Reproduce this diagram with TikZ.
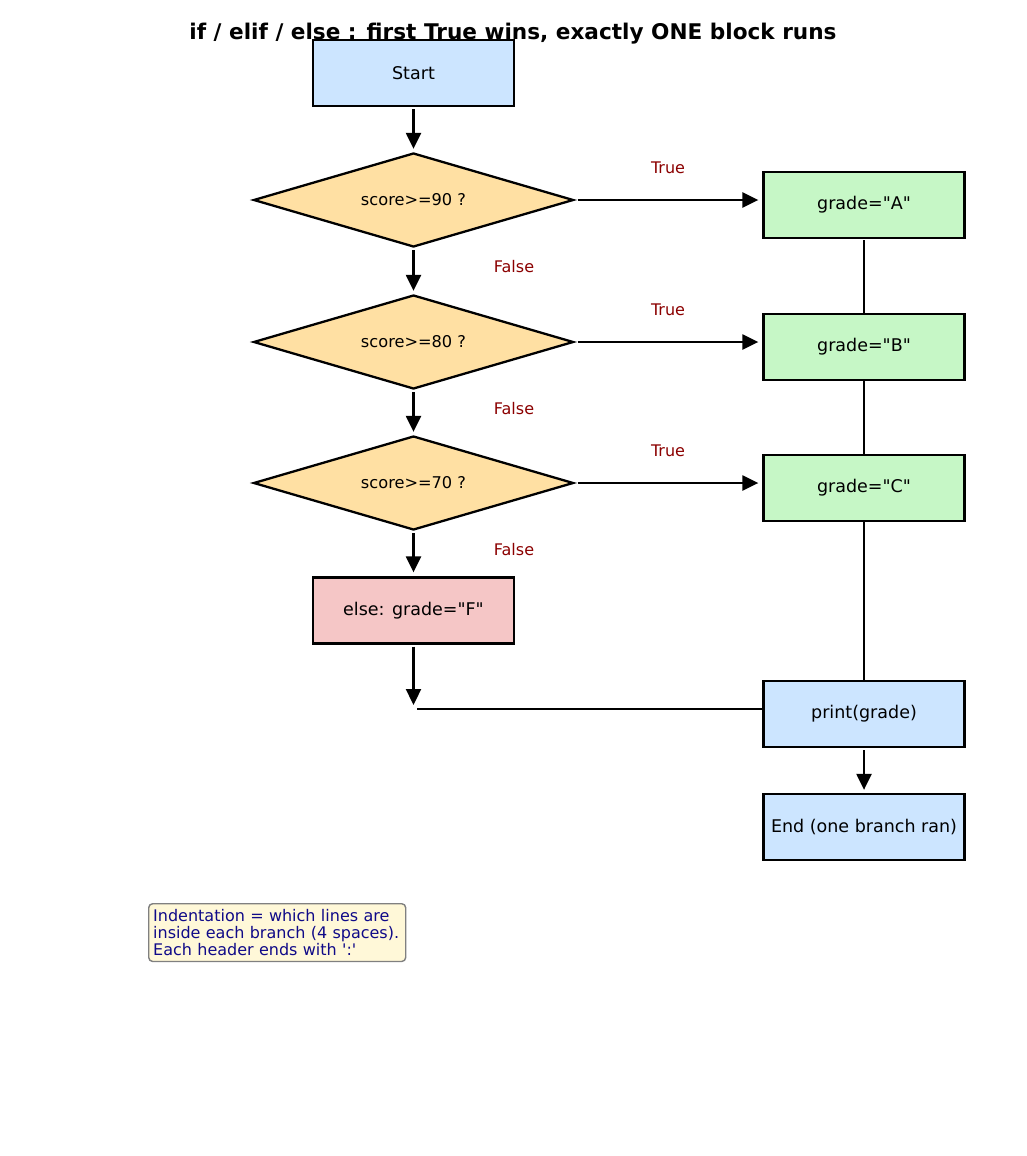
\documentclass[tikz,border=0pt]{standalone}
\usepackage{fontspec}
\setmainfont{DejaVu Sans}
\usetikzlibrary{shapes.geometric,arrows.meta}
\definecolor{bluefill}{HTML}{CCE5FF}
\definecolor{orangefill}{HTML}{FFE0A3}
\definecolor{greenfill}{HTML}{C6F7C6}
\definecolor{redfill}{HTML}{F5C6C6}
\definecolor{notefill}{HTML}{FFF8D8}
\definecolor{labelred}{HTML}{8B0000}
\definecolor{notetext}{HTML}{100A88}
\newcommand{\dq}{\textquotedbl}
\newcommand{\sq}{\textquotesingle}
\tikzset{
  x=1pt, y=-1pt,
  boxnode/.style={draw=black, line width=2.3pt, minimum width=201pt, minimum height=66pt, inner sep=0pt, font=\fontsize{17.5}{20}\selectfont},
  decnode/.style={draw=black, line width=2.3pt, shape=diamond, aspect=3.4, minimum width=320pt, minimum height=94pt, inner sep=0pt, font=\fontsize{16.2}{19}\selectfont, fill=orangefill},
  flow/.style={line width=2.3pt, -{Triangle[length=16pt,width=15pt]}},
  plain/.style={line width=2.3pt},
  lbl/.style={text=labelred, font=\fontsize{16}{19}\selectfont},
}
\begin{document}
\begin{tikzpicture}
\useasboundingbox (0,0) rectangle (1027,1156);
\node[font=\bfseries\fontsize{21.6}{26}\selectfont] (title) at (513,34) {if / elif / else : first True wins, exactly ONE block runs};
\node[boxnode, fill=bluefill] (start) at (413.5,73) {Start};
\node[decnode] (d1) at (413.5,200) {score>=90 ?};
\node[decnode] (d2) at (413.5,342) {score>=80 ?};
\node[decnode] (d3) at (413.5,483) {score>=70 ?};
\node[boxnode, fill=redfill] (els) at (413.5,610.5) {else: grade=\dq F\dq};
% vertical trunk behind grade boxes
\coordinate (trunktop) at (864,240);
\node[boxnode, fill=bluefill] (pr) at (864,714) {print(grade)};
\draw[plain] (trunktop) -- (pr.north);
\node[boxnode, fill=greenfill] (ga) at (864,205) {grade=\dq A\dq};
\node[boxnode, fill=greenfill] (gb) at (864,347) {grade=\dq B\dq};
\node[boxnode, fill=greenfill] (gc) at (864,488) {grade=\dq C\dq};
\node[boxnode, fill=bluefill] (en) at (864,827) {End (one branch ran)};
% flows
\draw[flow, shorten <=2pt, shorten >=3pt] (start.south) -- (d1.north);
\draw[flow, shorten <=2pt, shorten >=3pt] (d1.south) -- (d2.north);
\draw[flow, shorten <=2pt, shorten >=3pt] (d2.south) -- (d3.north);
\draw[flow, shorten <=2pt, shorten >=4pt] (d3.south) -- (els.north);
\draw[flow, shorten <=3pt, shorten >=4pt] (d1.east) -- (ga.west |- d1.east);
\draw[flow, shorten <=3pt, shorten >=4pt] (d2.east) -- (gb.west |- d2.east);
\draw[flow, shorten <=3pt, shorten >=4pt] (d3.east) -- (gc.west |- d3.east);
\coordinate (jtip) at (413.5,705);
\coordinate (jstart) at (417,709);
\draw[flow, shorten <=2pt] (els.south) -- (jtip);
\draw[plain] (jstart) -- (pr.west |- jstart);
\draw[flow, shorten <=2pt, shorten >=3pt] (pr.south) -- (en.north);
% labels
\node[lbl] (t1) at (668,168) {True};
\node[lbl] (t2) at (668,310) {True};
\node[lbl] (t3) at (668,451) {True};
\node[lbl] (f1) at (514,267) {False};
\node[lbl] (f2) at (514,409) {False};
\node[lbl] (f3) at (514,550) {False};
% note
\node[draw=gray, line width=1.4pt, fill=notefill, rounded corners=4pt, align=left, inner xsep=4.5pt, inner ysep=5.5pt, text=notetext, font=\fontsize{16}{17.2}\selectfont, anchor=north west, text width=248pt] (note) at (148,903) {Indentation = which lines are\\inside each branch (4 spaces).\\Each header ends with \sq:\sq};
\end{tikzpicture}
\end{document}
